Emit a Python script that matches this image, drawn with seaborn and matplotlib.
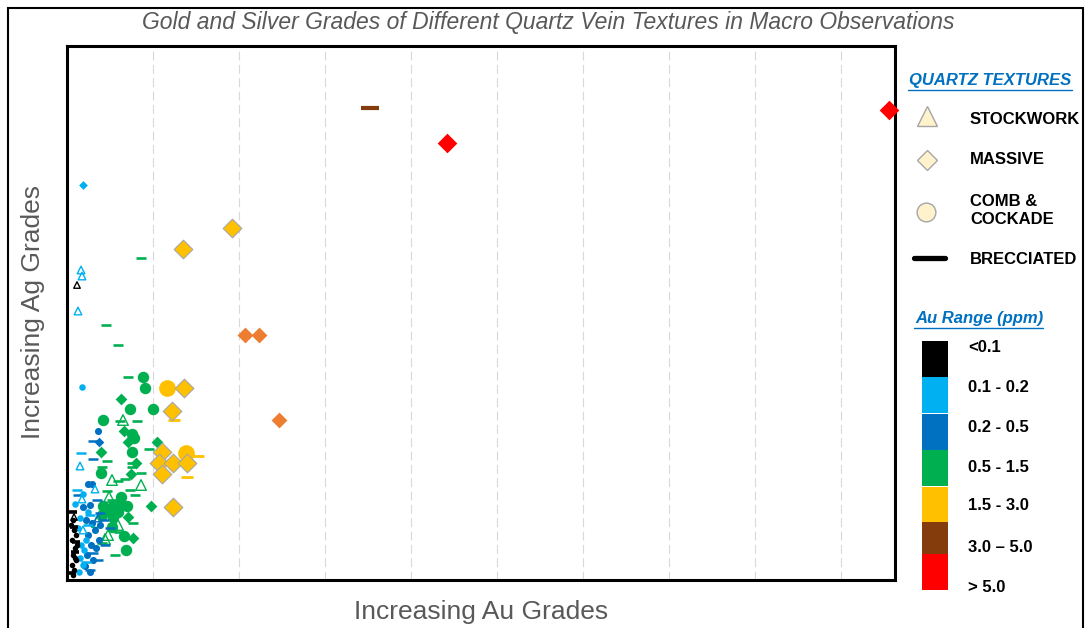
import numpy as np
import pandas as pd
import seaborn as sns
import matplotlib.pyplot as plt
from matplotlib.lines import Line2D
from matplotlib.patches import Rectangle

# relative grade units (no tick labels in the original)
# texture codes: S = stockwork, M = massive, C = comb & cockade, B = brecciated
BLACK_AU = [6, 7, 5, 8, 6, 9, 5, 7, 10, 9, 4, 6, 8, 6, 7, 8, 5, 9, 10, 7]
BLACK_AG = [60, 50, 40, 32, 25, 20, 15, 10, 35, 45, 55, 5, 22, 68, 53, 28, 7, 38, 295, 63]
BLACK_TX = ["C"] * 13 + ["B"] * 5 + ["S"] * 2

LBLUE_AU = [16, 14, 15, 11, 13, 28, 16, 15, 15, 16, 8, 13, 14, 17, 13, 16, 12, 19, 11, 21,
            14, 10, 23, 21, 19]
LBLUE_AG = [395, 310, 304, 269, 114, 91, 50, 81, 193, 86, 76, 62, 35, 30, 22, 15, 8, 40, 52, 68,
            127, 90, 65, 55, 18]
LBLUE_TX = ["M"] + ["S"] * 7 + ["C"] * 12 + ["B"] * 5

DBLUE_AU = [31, 21, 25, 16, 23, 19, 25, 28, 21, 24, 29, 20, 26, 32, 18, 33, 23,
            32, 26, 26, 11, 33, 37, 26, 31, 23, 38, 43, 30, 31]
DBLUE_AG = [149, 96, 96, 73, 75, 60, 57, 50, 45, 35, 32, 25, 20, 40, 14, 55, 8,
            138, 139, 121, 85, 67, 60, 27, 20, 10, 35, 52, 80, 62]
DBLUE_TX = ["C"] * 17 + ["M"] + ["B"] * 11 + ["S"]

GREEN_AU = [76, 78, 63, 86, 36, 65, 67, 65, 34, 54, 36, 46, 60, 41, 53, 35, 46, 45, 57, 59, 51,
            54, 57, 61, 90, 34, 69, 64, 84, 61, 66,
            61, 53, 70, 82, 40, 65, 65, 35, 74, 58, 51, 40, 68, 52, 35, 48, 74, 39, 51, 45, 63, 66,
            56, 45, 74, 42, 38, 30, 51, 41]
GREEN_AG = [203, 192, 171, 171, 160, 146, 142, 128, 107, 83, 74, 74, 74, 70, 75, 65, 63, 53, 44, 30, 68,
            181, 149, 138, 138, 128, 117, 106, 74, 63, 42,
            203, 159, 159, 131, 119, 117, 113, 113, 107, 101, 99, 89, 85, 48, 37, 25, 322, 255, 235, 80, 90, 57,
            160, 100, 95, 83, 41, 58, 55, 45]
GREEN_TX = ["C"] * 21 + ["M"] * 10 + ["B"] * 22 + ["S"] * 8

YELLOW_AU = [100, 119, 117, 105, 95, 92, 106, 120, 95, 106, 116, 165, 99, 120, 107, 131, 120]
YELLOW_AG = [192, 127, 192, 169, 128, 117, 117, 117, 106, 73, 331, 352, 192, 192, 160, 124, 103]
YELLOW_TX = ["C"] * 2 + ["M"] * 10 + ["B"] * 5

ORANGE_AU = [178, 192, 212]
ORANGE_AG = [245, 245, 160]
ORANGE_TX = ["M"] * 3

BROWN_AU = [303]
BROWN_AG = [472]
BROWN_TX = ["B"]

RED_AU = [380, 822]
RED_AG = [437, 470]
RED_TX = ["M"] * 2

TEXTURE_LABELS = ["STOCKWORK", "MASSIVE", "COMB &\nCOCKADE", "BRECCIATED"]
RANGE_LABELS = ["<0.1", "0.1 - 0.2", "0.2 - 0.5", "0.5 - 1.5", "1.5 - 3.0", "3.0 \u2013 5.0", "> 5.0"]
RANGE_COLORS = ["#000000", "#00B0F0", "#0070C0", "#00B050", "#FFC000", "#843C0C", "#FF0000"]

TITLE = "Gold and Silver Grades of Different Quartz Vein Textures in Macro Observations"
X_LABEL = "Increasing Au Grades"
Y_LABEL = "Increasing Ag Grades"

W, H = 1090, 628


def fx(px):
    return px / W


def fy(py):
    return 1 - py / H


def build_frame():
    parts = []
    groups = [
        ("green", GREEN_AU, GREEN_AG, GREEN_TX),
        ("yellow", YELLOW_AU, YELLOW_AG, YELLOW_TX),
        ("orange", ORANGE_AU, ORANGE_AG, ORANGE_TX),
        ("brown", BROWN_AU, BROWN_AG, BROWN_TX),
        ("red", RED_AU, RED_AG, RED_TX),
        ("dblue", DBLUE_AU, DBLUE_AG, DBLUE_TX),
        ("lblue", LBLUE_AU, LBLUE_AG, LBLUE_TX),
        ("black", BLACK_AU, BLACK_AG, BLACK_TX),
    ]
    for name, au, ag, tx in groups:
        parts.append(pd.DataFrame({"au": au, "ag": ag, "texture": tx, "grade": name}))
    return pd.concat(parts, ignore_index=True)


GRADE_COLOR = {
    "black": "#000000", "lblue": "#00B0F0", "dblue": "#0070C0", "green": "#00B050",
    "yellow": "#FFC000", "orange": "#ED7D31", "brown": "#843C0C", "red": "#FF0000",
}
# marker sizes (points^2) per grade and texture
SIZES = {
    "black": {"C": 16, "B": 30, "S": 22, "M": 14},
    "lblue": {"C": 22, "B": 45, "S": 30, "M": 20},
    "dblue": {"C": 26, "B": 50, "S": 30, "M": 24},
    "green": {"C": 68, "B": 60, "S": 58, "M": 36},
    "yellow": {"C": 145, "B": 85, "S": 60, "M": 90},
    "orange": {"M": 65},
    "brown": {"B": 160},
    "red": {"M": 100},
}
DASH_LW = {"black": 2.6, "lblue": 1.8, "dblue": 1.8, "green": 1.9, "yellow": 2.0, "brown": 3.0}


def main():
    df = build_frame()

    sns.set_theme(style="white")
    plt.rcParams["font.family"] = ["Liberation Sans", "DejaVu Sans"]

    fig = plt.figure(figsize=(W / 100, H / 100), dpi=100)
    ax = fig.add_axes([fx(67), fy(580), fx(895) - fx(67), fy(46) - fy(580)])

    order = ["B", "S", "C", "M"]
    for grade in df["grade"].unique():
        col = GRADE_COLOR[grade]
        sub_g = df[df["grade"] == grade]
        for tx in order:
            sub = sub_g[sub_g["texture"] == tx]
            if sub.empty:
                continue
            s = SIZES[grade][tx]
            if tx == "B":
                sns.scatterplot(data=sub, x="au", y="ag", marker="_", s=s, color=col,
                                linewidth=DASH_LW[grade], ax=ax, legend=False, clip_on=False)
            elif tx == "S":
                sns.scatterplot(data=sub, x="au", y="ag", marker="^", s=s, color="none",
                                edgecolor=col, linewidth=1.0, ax=ax, legend=False)
            elif tx == "C":
                sns.scatterplot(data=sub, x="au", y="ag", marker="o", s=s, color=col,
                                edgecolor=col, linewidth=0, ax=ax, legend=False)
            else:
                ec = "#A6A6A6" if grade == "yellow" else col
                sns.scatterplot(data=sub, x="au", y="ag", marker="D", s=s, color=col,
                                edgecolor=ec, linewidth=0.8 if grade == "yellow" else 0,
                                ax=ax, legend=False, clip_on=False, zorder=5)

    ax.set_xlim(0, 828)
    ax.set_ylim(0, 534)
    ax.set_xticks(np.arange(86, 828, 86))
    ax.set_yticks([])
    ax.tick_params(length=0, labelbottom=False, labelleft=False)
    ax.grid(axis="x", color="#D9D9D9", linestyle=(0, (8, 4)), linewidth=0.8)
    ax.grid(axis="y", visible=False)
    for sp in ax.spines.values():
        sp.set_color("black")
        sp.set_linewidth(2.2)
    ax.set_xlabel("")
    ax.set_ylabel("")

    grey = "#595959"
    fig.text(fx(548), fy(22), TITLE, ha="center", va="center", fontsize=16.5,
             style="italic", color=grey)
    fig.text(fx(481), fy(612), X_LABEL, ha="center", va="center", fontsize=19, color=grey)
    fig.text(fx(33), fy(312), Y_LABEL, ha="center", va="center", fontsize=19,
             color=grey, rotation=90)

    # outer frame
    fig.add_artist(Rectangle((fx(8), fy(660)), fx(1083) - fx(8), fy(8) - fy(660),
                             transform=fig.transFigure, fill=False, edgecolor="black",
                             linewidth=1.5, clip_on=False))

    # texture legend
    blue = "#0070C0"
    fig.text(fx(990), fy(81), "QUARTZ TEXTURES", ha="center", va="center",
             fontsize=12, color=blue, weight="bold", style="italic")
    fig.add_artist(Line2D([fx(908), fx(1072)], [fy(90), fy(90)], color=blue,
                          linewidth=1.0, transform=fig.transFigure))
    leg_fill, leg_edge = "#FFF2CC", "#A6A6A6"
    fig.add_artist(Line2D([fx(927)], [fy(116)], marker="^", markersize=15,
                          markerfacecolor=leg_fill, markeredgecolor=leg_edge,
                          linestyle="none", transform=fig.transFigure))
    fig.add_artist(Line2D([fx(927)], [fy(160)], marker="D", markersize=10,
                          markerfacecolor=leg_fill, markeredgecolor=leg_edge,
                          linestyle="none", transform=fig.transFigure))
    fig.add_artist(Line2D([fx(926)], [fy(212)], marker="o", markersize=13.5,
                          markerfacecolor=leg_fill, markeredgecolor=leg_edge,
                          linestyle="none", transform=fig.transFigure))
    fig.add_artist(Line2D([fx(914), fx(945)], [fy(258), fy(258)], color="black",
                          linewidth=3.8, transform=fig.transFigure))
    text_y = [119, 159, 210, 259]
    for lab, yy in zip(TEXTURE_LABELS, text_y):
        fig.text(fx(970), fy(yy), lab, ha="left", va="center", fontsize=12,
                 weight="bold", color="black", linespacing=1.25)

    # Au range legend
    fig.text(fx(979), fy(318), "Au Range (ppm)", ha="center", va="center",
             fontsize=12, color=blue, weight="bold", style="italic")
    fig.add_artist(Line2D([fx(914), fx(1043)], [fy(328), fy(328)], color=blue,
                          linewidth=1.0, transform=fig.transFigure))
    box_top = [341, 377, 414, 450, 487, 522, 554]
    label_y = [347, 387, 427, 467, 506, 547, 588]
    for col, top, lab, ly in zip(RANGE_COLORS, box_top, RANGE_LABELS, label_y):
        fig.add_artist(Rectangle((fx(922), fy(top + 36)), fx(948) - fx(922), fy(top) - fy(top + 36),
                                 transform=fig.transFigure, facecolor=col, edgecolor="none"))
        fig.text(fx(968), fy(ly), lab, ha="left", va="center", fontsize=12,
                 weight="bold", color="black")

    fig.savefig("out.png", dpi=100)
    plt.close(fig)


if __name__ == "__main__":
    main()
